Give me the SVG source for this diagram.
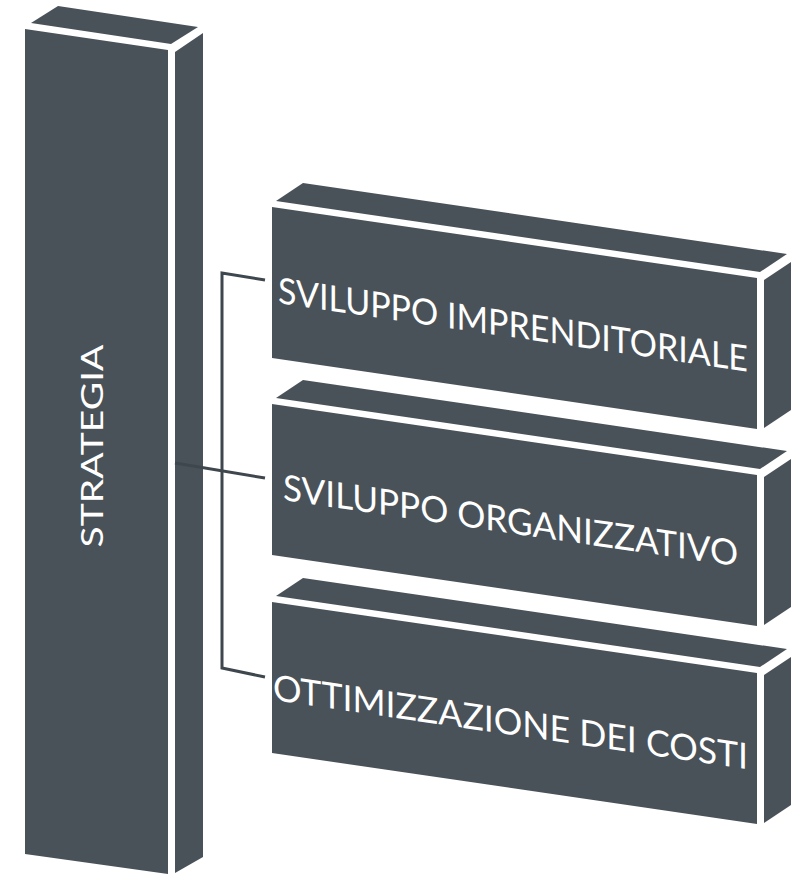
<svg xmlns="http://www.w3.org/2000/svg" width="800" height="874" viewBox="0 0 800 874">
<style>
.f{fill:#4a5259}
.t{fill:#ffffff;font-family:Lato,"Open Sans","Liberation Sans",sans-serif;font-weight:400}
.c{fill:none;stroke:#3f474e;stroke-width:3;stroke-linejoin:miter}
</style>
<rect width="800" height="874" fill="#ffffff"/>
<g id="strategia">
<polygon class="f" points="31,23 58,6 198,27 171,44"/>
<polygon class="f" points="25,29 168,50 168,874 25,854"/>
<polygon class="f" points="175,52 203,33 203,857 175,873"/>
<text class="t" transform="translate(103,446) rotate(-90)" text-anchor="middle" font-size="31" textLength="203" lengthAdjust="spacingAndGlyphs">STRATEGIA</text>
</g>
<g id="connectors">
<polyline class="c" points="265,280 222,273 222,668 265,677"/>
<line class="c" x1="175" y1="463" x2="265" y2="478"/>
</g>
<g id="box1" transform="translate(0,207)">
<polygon class="f" points="276,-6 303,-24 787,47 760,65"/>
<polygon class="f" points="272,0 757,71 757,222 272,151"/>
<polygon class="f" points="764,73 791,55 791,203 764,221"/>
<g transform="translate(278,96) skewY(8.3)"><text class="t" font-size="36" textLength="470" lengthAdjust="spacingAndGlyphs">SVILUPPO IMPRENDITORIALE</text></g>
</g>
<g id="box2" transform="translate(0,404)">
<polygon class="f" points="276,-6 303,-24 787,47 760,65"/>
<polygon class="f" points="272,0 757,71 757,222 272,151"/>
<polygon class="f" points="764,73 791,55 791,203 764,221"/>
<g transform="translate(283,96) skewY(8.3)"><text class="t" font-size="36" textLength="455" lengthAdjust="spacingAndGlyphs">SVILUPPO ORGANIZZATIVO</text></g>
</g>
<g id="box3" transform="translate(0,602)">
<polygon class="f" points="276,-6 303,-24 787,47 760,65"/>
<polygon class="f" points="272,0 757,71 757,222 272,151"/>
<polygon class="f" points="764,73 791,55 791,203 764,221"/>
<g transform="translate(273,98) skewY(8.3)"><text class="t" font-size="36" textLength="475" lengthAdjust="spacingAndGlyphs">OTTIMIZZAZIONE DEI COSTI</text></g>
</g>
</svg>
